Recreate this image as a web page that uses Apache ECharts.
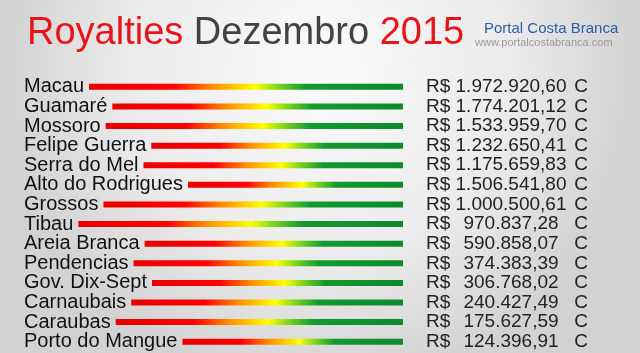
<!DOCTYPE html>
<html>
<head>
<meta charset="utf-8">
<script src="https://cdn.jsdelivr.net/npm/echarts@6/dist/echarts.min.js"></script>
<style>html,body{margin:0;padding:0;}#c{width:640px;height:353px;}</style>
</head>
<body>
<div id="c"></div>
<script>
var municipios = ["Macau","Guamaré","Mossoro","Felipe Guerra","Serra do Mel","Alto do Rodrigues","Grossos","Tibau","Areia Branca","Pendencias","Gov. Dix-Sept","Carnaubais","Caraubas","Porto do Mangue"];
var royalties = [1972920.60,1774201.12,1533959.70,1232650.41,1175659.83,1506541.80,1000500.61,970837.28,590858.07,374383.39,306768.02,240427.49,175627.59,124396.91];
var titleParts = ["Royalties","Dezembro","2015"];
var siteName = "Portal Costa Branca";
var siteUrl = "www.portalcostabranca.com";
var suffix = "C";

function fmtBR(v){
  var s = v.toFixed(2).split('.');
  var ip = s[0].replace(/\B(?=(\d{3})+(?!\d))/g,'.');
  return ip + ',' + s[1];
}

var FONT = '"Liberation Sans", Arial, sans-serif';
var trackPx = 379; // grid width
var cv = document.createElement('canvas').getContext('2d');
cv.font = '20px ' + FONT;
var baseFrac = municipios.map(function(n){ return (cv.measureText(n).width + 5) / trackPx; });
var barFrac = baseFrac.map(function(b){ return 1 - b; });

var grad = {type:'linear',x:0,y:0,x2:1,y2:0,colorStops:[
  {offset:0,color:'#e80000'},{offset:0.27,color:'#ff0000'},{offset:0.39,color:'#ff8a00'},
  {offset:0.53,color:'#ffff00'},{offset:0.61,color:'#6fcf1f'},{offset:0.69,color:'#119a30'},{offset:1,color:'#0b8a2c'}]};

var chart = echarts.init(document.getElementById('c'), null, {renderer:'canvas'});
chart.setOption({
  animation:false,
  backgroundColor:{type:'radial',x:0.5,y:0.2,r:0.9,colorStops:[{offset:0,color:'#fafafa'},{offset:0.6,color:'#ebebeb'},{offset:1,color:'#d2d2d2'}]},
  graphic:[
    {type:'text',left:27,top:15,style:{
      text:'{r|'+titleParts[0]+'} {g|'+titleParts[1]+'} {r|'+titleParts[2]+'}',
      font:'38px '+FONT,
      rich:{r:{fontSize:38,fontFamily:FONT,fill:'#e8141c',color:'#e8141c'},g:{fontSize:38,fontFamily:FONT,fill:'#424242',color:'#424242'}}
    }},
    {type:'text',left:484,top:21,style:{text:siteName,font:'15px '+FONT,fill:'#2b5ca8'}},
    {type:'text',left:475,top:37,style:{text:siteUrl,font:'11px '+FONT,fill:'#9a9a9a'}}
  ],
  grid:{left:24,right:237,top:77,bottom:1.5,containLabel:false},
  xAxis:{type:'value',min:0,max:1,show:false},
  yAxis:{type:'category',inverse:true,data:municipios,
    axisLine:{show:false},axisTick:{show:false},splitLine:{show:false},
    axisLabel:{inside:true,interval:0,margin:0,align:'left',fontSize:20,fontFamily:FONT,color:'#111'}},
  series:[
    {type:'bar',stack:'s',data:baseFrac,barWidth:6,itemStyle:{color:'rgba(0,0,0,0)'},silent:true},
    {type:'bar',stack:'s',data:barFrac,barWidth:6,itemStyle:{color:grad},
      label:{show:true,position:'right',distance:23,
        formatter:function(p){return '{r|R$}{n|'+fmtBR(royalties[p.dataIndex])+'}{c| '+suffix+'}';},
        rich:{
          r:{fontSize:19,fontFamily:FONT,color:'#222',width:27,align:'left'},
          n:{fontSize:19,fontFamily:FONT,color:'#222',width:116,align:'right'},
          c:{fontSize:19,fontFamily:FONT,color:'#222'}
        }}}
  ]
});
</script>
</body>
</html>
